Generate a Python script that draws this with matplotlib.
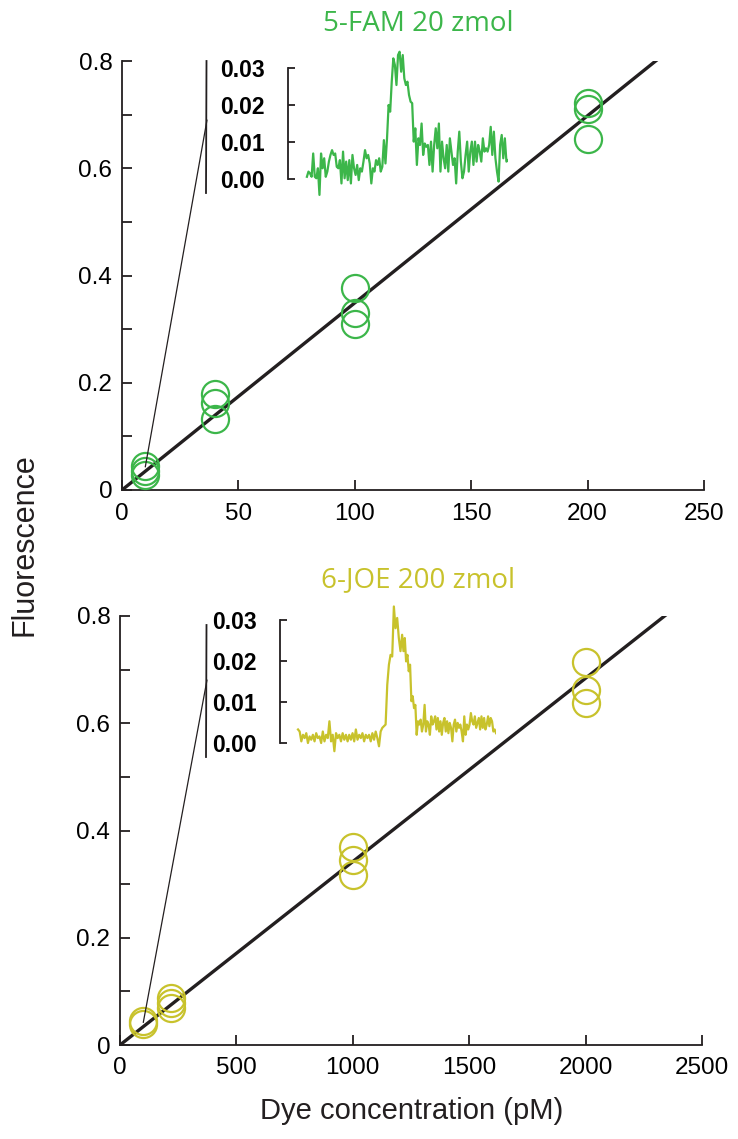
import numpy as np
import matplotlib
matplotlib.use("Agg")
import matplotlib.pyplot as plt
from matplotlib.patches import ConnectionPatch
from matplotlib.lines import Line2D

# calibration data
fam_conc = [10, 10, 10, 40, 40, 40, 100, 100, 100, 200, 200, 200]
fam_fluor = [0.045, 0.035, 0.028, 0.179, 0.162, 0.132,
             0.377, 0.330, 0.310, 0.722, 0.711, 0.655]
joe_conc = [100, 100, 220, 220, 220, 1000, 1000, 1000, 2000, 2000, 2000]
joe_fluor = [0.045, 0.040, 0.088, 0.078, 0.069,
             0.369, 0.345, 0.317, 0.714, 0.662, 0.638]

# linear fits (slope, intercept, x range drawn)
fam_fit = (0.00349, 0.0)
fam_fit_range = (0.0, 230.0)
joe_fit = (0.000342, 0.0)
joe_fit_range = (0.0, 2362.0)

# inset electropherograms (fluorescence vs. sample)
fam_trace = [
    0.0006, 0.0020, 0.0015, 0.0006, 0.0069, 0.0006, 0.0002, 0.0029, -0.0043, 0.0069,
    0.0029, 0.0056, 0.0006, 0.0020, 0.0047, 0.0065, 0.0078, 0.0065, 0.0069, 0.0033,
    0.0029, 0.0051, -0.0012, 0.0074, 0.0002, 0.0047, -0.0003, 0.0051, -0.0012, 0.0065,
    0.0029, 0.0011, 0.0038, -0.0003, 0.0029, 0.0020, 0.0047, 0.0078, 0.0056, 0.0065,
    0.0042, -0.0012, 0.0029, 0.0020, 0.0051, 0.0038, 0.0056, 0.0020, 0.0033, 0.0105,
    0.0042, 0.0110, 0.0200, 0.0182, 0.0263, 0.0326, 0.0308, 0.0254, 0.0335, 0.0344,
    0.0290, 0.0335, 0.0272, 0.0254, 0.0263, 0.0227,
    0.0209, 0.0205, 0.0101, 0.0137, 0.0038, 0.0110, 0.0092, 0.0150, 0.0065, 0.0096,
    0.0087, 0.0092, 0.0038, 0.0101, 0.0020, 0.0092, 0.0137, 0.0083, 0.0150, 0.0020,
    0.0101, 0.0056, 0.0029, 0.0092, 0.0020, 0.0110, 0.0074, 0.0038, 0.0056, -0.0012,
    0.0074, 0.0128, 0.0047, 0.0002, 0.0020, 0.0065, 0.0101, 0.0020, 0.0074, 0.0101,
    0.0038, 0.0101, 0.0047, 0.0092, 0.0074, 0.0047, 0.0110, 0.0074, 0.0083, 0.0074,
    0.0092, 0.0141, 0.0065, 0.0128, 0.0056, 0.0020, -0.0007, 0.0092, 0.0119, 0.0056,
    0.0110, 0.0047, 0.0051,
]
# JOE trace was read in two stretches with different sampling density
joe_trace_a = [
    0.0033, 0.0028, 0.0004, 0.0020, 0.0012, 0.0024, 0.0000, 0.0016, 0.0008, 0.0020,
    0.0004, 0.0024, 0.0012, 0.0016, 0.0000, 0.0028, 0.0004, 0.0020, 0.0012, 0.0053,
    0.0004, 0.0020, -0.0020, 0.0024, 0.0012, 0.0020, 0.0004, 0.0024, 0.0008, 0.0020,
    0.0004, 0.0020, 0.0008, 0.0024, 0.0004, 0.0033, 0.0008, 0.0020, 0.0012, 0.0024,
    0.0004, 0.0020, 0.0012, 0.0020, 0.0004, 0.0024, 0.0008, 0.0028, 0.0012, -0.0008,
    0.0028, 0.0037, 0.0041, 0.0045, 0.0142, 0.0191, 0.0215, 0.0211, 0.0333, 0.0280,
    0.0305, 0.0256, 0.0224,
]
joe_trace_b = [
    0.0264, 0.0224, 0.0256, 0.0199, 0.0215, 0.0175, 0.0191, 0.0102, 0.0114, 0.0085,
    0.0093, 0.0020, 0.0053, 0.0045, 0.0057, 0.0028, 0.0045, 0.0093, 0.0028, 0.0053,
    0.0045, 0.0020, 0.0065, 0.0045, 0.0053, 0.0065, 0.0033, 0.0061, 0.0028, 0.0053,
    0.0020, 0.0049, 0.0061, 0.0028, 0.0053, 0.0024, 0.0049, 0.0037, 0.0004, 0.0045,
    0.0057, 0.0028, 0.0049, 0.0037, 0.0045, 0.0028, 0.0004, 0.0065, 0.0020, 0.0045,
    0.0033, 0.0045, 0.0073, 0.0053, 0.0045, 0.0065, 0.0037, 0.0049, 0.0061, 0.0033,
    0.0065, 0.0037, 0.0061, 0.0033, 0.0045, 0.0065, 0.0041, 0.0061, 0.0053, 0.0028,
    0.0033, 0.0024,
]
# sample spacing of the two stretches (relative)
joe_step_a, joe_step_b = 5, 4

GREEN = "#3cb64a"
YELLOW = "#c8c22c"
DARK = "#231f20"

plt.rcParams["font.family"] = ["Liberation Sans", "DejaVu Sans"]

W, H = 738, 1139
fig = plt.figure(figsize=(W / 100, H / 100), dpi=100)


def px(x0, y0, x1, y1):
    # figure rect from pixel box (top-left origin)
    return [x0 / W, 1 - y1 / H, (x1 - x0) / W, (y1 - y0) / H]


def main_axes(rect, conc, fluor, fit, fit_range, xmax, xstep, color):
    ax = fig.add_axes(rect)
    xs = np.array(fit_range)
    ax.plot(xs, fit[0] * xs + fit[1], color=DARK, lw=2.4, solid_capstyle="butt", zorder=2)
    ax.plot(conc, fluor, "o", mfc="none", mec=color, mew=1.6, ms=19.5, zorder=3, clip_on=False)
    ax.set_xlim(0, xmax)
    ax.set_ylim(0, 0.8)
    ax.set_xticks(np.arange(0, xmax + 1, xstep))
    ax.set_yticks([0, 0.2, 0.4, 0.6, 0.8])
    ax.set_yticklabels(["0", "0.2", "0.4", "0.6", "0.8"])
    ax.set_yticks([0.1, 0.3, 0.5, 0.7], minor=True)
    for s in ["top", "right"]:
        ax.spines[s].set_visible(False)
    for s in ["left", "bottom"]:
        ax.spines[s].set_linewidth(1.3)
        ax.spines[s].set_color(DARK)
    ax.tick_params(which="both", direction="in", length=7, width=1.3, color=DARK,
                   labelsize=17.5, labelcolor="black")
    ax.tick_params(axis="y", pad=7)
    ax.tick_params(axis="x", pad=9)
    return ax


def inset_axes(rect, x, trace, gap, ylim, color):
    ia = fig.add_axes(rect)
    ia.patch.set_visible(False)
    x = np.asarray(x, dtype=float)
    ia.plot(x, trace, color=color, lw=1.6)
    ia.set_xlim(x[0] - gap * (x[-1] - x[0]), x[-1])
    ia.set_ylim(*ylim)
    for s in ["top", "right", "bottom"]:
        ia.spines[s].set_visible(False)
    ia.spines["left"].set_bounds(0, 0.03)
    ia.spines["left"].set_linewidth(1.3)
    ia.spines["left"].set_color(DARK)
    ia.set_xticks([])
    ia.set_yticks([0, 0.01, 0.02, 0.03])
    ia.set_yticklabels(["0.00", "0.01", "0.02", "0.03"], fontweight="bold")
    ia.tick_params(axis="y", direction="in", length=5, width=1.3, color=DARK,
                   labelsize=16.5, pad=17)
    return ia


ax1 = main_axes(px(122, 61, 704, 490), fam_conc, fam_fluor, fam_fit, fam_fit_range,
                250, 50, GREEN)
ax2 = main_axes(px(120, 616, 702, 1045), joe_conc, joe_fluor, joe_fit, joe_fit_range,
                2500, 500, YELLOW)

fam_x = np.arange(len(fam_trace))
joe_x = np.concatenate([np.arange(len(joe_trace_a)) * joe_step_a,
                        len(joe_trace_a) * joe_step_a + np.arange(len(joe_trace_b)) * joe_step_b])
inset_axes(px(288, 45.8, 508, 197.5), fam_x, fam_trace, 0.094, (-0.005, 0.036), GREEN)
inset_axes(px(280, 599.5, 496, 759.4), joe_x, joe_trace_a + joe_trace_b, 0.091,
           (-0.004, 0.035), YELLOW)

# leader lines from lowest standard to the inset
for ax, pt, top, y0, y1 in [(ax1, (10, 0.043), 120, 61, 193),
                            (ax2, (100, 0.042), 680, 625, 757)]:
    con = ConnectionPatch(xyA=pt, coordsA=ax.transData,
                          xyB=(207 / W, 1 - top / H), coordsB=fig.transFigure,
                          color=DARK, lw=0.9, zorder=5)
    fig.add_artist(con)
    fig.add_artist(Line2D([206.5 / W, 206 / W], [1 - y0 / H, 1 - y1 / H],
                          transform=fig.transFigure, color=DARK, lw=1.3))

fig.text(418 / W, 1 - 24 / H, "5-FAM 20 zmol", color=GREEN, fontsize=20,
         family=["Open Sans", "DejaVu Sans"], ha="center", va="center")
fig.text(418 / W, 1 - 580 / H, "6-JOE 200 zmol", color=YELLOW, fontsize=20,
         family=["Open Sans", "DejaVu Sans"], ha="center", va="center")

fig.text(25 / W, 1 - 545 / H, "Fluorescence", rotation=90, fontsize=22,
         color=DARK, ha="center", va="center")
fig.text(412 / W, 1 - 1111 / H, "Dye concentration (pM)", fontsize=21,
         color=DARK, ha="center", va="center")

plt.savefig("out.png", dpi=100)
